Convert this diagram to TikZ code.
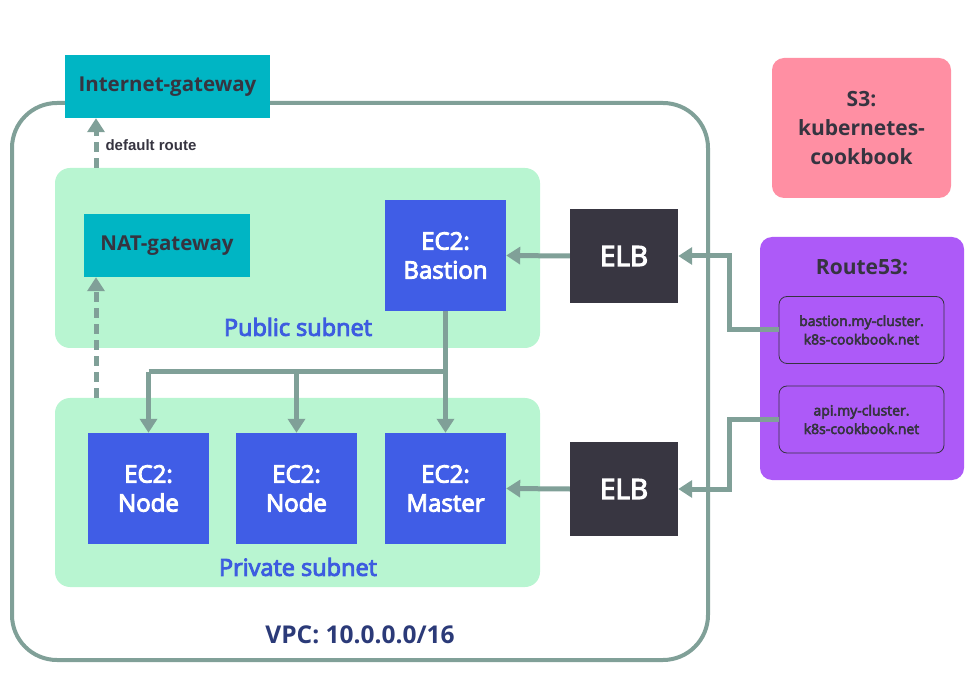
\documentclass[tikz,border=0pt]{standalone}
\usepackage{fontspec}
\setmainfont{Open Sans}
\newfontfamily\semifont{Open Sans}[FakeBold=4]
\newfontfamily\arialfont{Liberation Sans}
\usetikzlibrary{arrows.meta}
\definecolor{teal}{HTML}{00B5C4}
\definecolor{subnet}{HTML}{B8F5D1}
\definecolor{ectwo}{HTML}{405DE6}
\definecolor{elb}{HTML}{383641}
\definecolor{rfiftythree}{HTML}{AD5AF8}
\definecolor{sthree}{HTML}{FF8FA3}
\definecolor{conn}{HTML}{80A098}
\definecolor{darktext}{HTML}{363440}
\definecolor{sublabel}{HTML}{3D5CE0}
\definecolor{vpclabel}{HTML}{2B3A78}
\begin{document}
\begin{tikzpicture}[x=1pt,y=-1pt,
  gw/.style={fill=teal,text=darktext,font=\fontsize{20.5}{24}\selectfont\bfseries,inner sep=0pt},
  ecbox/.style={fill=ectwo,text=white,font=\semifont\fontsize{24}{29}\selectfont,align=center,minimum width=121pt,minimum height=111pt,inner sep=0pt},
  elbbox/.style={fill=elb,text=white,font=\semifont\fontsize{28}{30}\selectfont,minimum width=108pt,minimum height=94pt,inner sep=0pt},
  subnetbox/.style={fill=subnet,rounded corners=15pt},
  sublbl/.style={text=sublabel,font=\semifont\fontsize{23.5}{27}\selectfont},
  dnsbox/.style={draw=darktext,line width=0.8pt,rounded corners=8pt,text=darktext,align=center,font=\semifont\fontsize{14}{18.5}\selectfont,minimum width=165pt,minimum height=67pt,inner sep=0pt},
  arr/.style={draw=conn,line width=5pt,-{Triangle[width=17pt,length=14pt]}},
  plain/.style={draw=conn,line width=5pt},
  dsh/.style={draw=conn,line width=5pt,dash pattern=on 10pt off 6pt},
]
\useasboundingbox (0,0) rectangle (980,684);
% VPC
\draw[conn,line width=4pt,rounded corners=45pt] (12,103) rectangle (708,660);
\node[text=vpclabel,font=\fontsize{24.5}{28}\selectfont\bfseries] (vpclbl) at (360,635) {VPC: 10.0.0.0/16};
% subnets
\path[subnetbox] (55,168) rectangle (540,348);
\path[subnetbox] (55,398) rectangle (540,587);
\node[sublbl] (publbl) at (298,327) {Public subnet};
\node[sublbl] (privlbl) at (298,567) {Private subnet};
% gateways
\node[gw,minimum width=205pt,minimum height=63pt] (igw) at (167.5,86.5) {Internet-gateway};
\node[gw,minimum width=166pt,minimum height=63pt] (nat) at (167,245.5) {NAT-gateway};
% EC2
\node[ecbox] (bastion) at (445.5,255.5) {EC2:\\Bastion};
\node[ecbox] (node1) at (148.5,488.5) {EC2:\\Node};
\node[ecbox] (node2) at (296.5,488.5) {EC2:\\Node};
\node[ecbox] (master) at (445.5,488.5) {EC2:\\Master};
% ELB
\node[elbbox] (elb1) at (624,256) {ELB};
\node[elbbox] (elb2) at (624,489) {ELB};
% S3
\node[fill=sthree,rounded corners=12pt,minimum width=179pt,minimum height=140pt,text=darktext,align=center,font=\fontsize{21}{29}\selectfont\bfseries,inner sep=0pt] (s3) at (861.5,128) {S3:\\kubernetes-\\cookbook};
% Route53
\path[fill=rfiftythree,rounded corners=12pt] (760,237) rectangle (964,480);
\node[text=darktext,font=\fontsize{21}{25}\selectfont\bfseries] (r53lbl) at (862,267) {Route53:};
\node[dnsbox] (dnsb) at (861.5,330) {bastion.my-cluster.\\k8s-cookbook.net};
\node[dnsbox] (dnsa) at (861.5,419.5) {api.my-cluster.\\k8s-cookbook.net};
% connectors
\coordinate (pubtop) at (96,168);
\coordinate (privtop) at (96,398);
\draw[dsh,-{Triangle[width=17pt,length=14pt]}] (pubtop) -- (pubtop |- igw.south);
\draw[dsh,-{Triangle[width=17pt,length=14pt]}] (privtop) -- (privtop |- nat.south);
\node[text=darktext,font=\arialfont\fontsize{15}{18}\selectfont\bfseries,anchor=west] (deflbl) at (102,145) {default route};
\coordinate (jr) at (445.5,372);
\coordinate (j1) at (148.5,372);
\coordinate (j2) at (296.5,372);
\draw[arr] (bastion.south) -- (master.north);
\draw[plain] (j1) -- (jr);
\draw[arr] (j1) -- (node1.north);
\draw[arr] (j2) -- (node2.north);
\draw[arr] (elb1.west) -- (bastion.east);
\draw[arr] (elb2.west) -- (master.east);
\coordinate (kb) at (729,330);
\coordinate (ka) at (729,419.5);
\draw[arr] (dnsb.west) -- (kb) |- (elb1.east);
\draw[arr] (dnsa.west) -- (ka) |- (elb2.east);
\end{tikzpicture}
\end{document}
